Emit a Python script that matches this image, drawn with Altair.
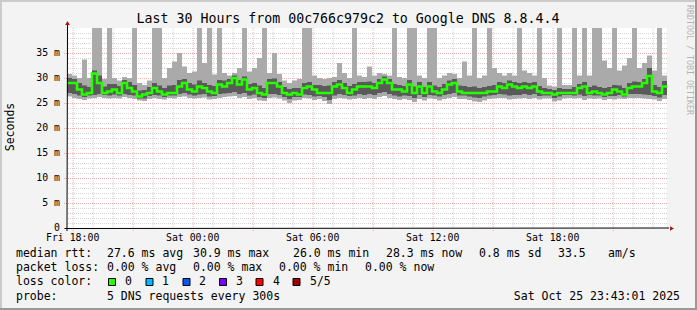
import altair as alt
import pandas as pd

FONT = "DejaVu Sans Mono"

TITLE = "Last 30 Hours from 00c766c979c2 to Google DNS 8.8.4.4"
START = "2025-10-24 17:43:01"
BIN_MINUTES = 15

# median rtt (ms) per 15-minute bin
median = [
    29.0, 29.0, 27.7, 26.7, 27.0, 30.9, 29.0, 27.0, 27.3, 27.7,
    27.0, 29.0, 28.0, 27.3, 26.3, 26.7, 27.0, 28.0, 27.3, 26.7,
    27.0, 27.0, 28.3, 29.0, 27.7, 27.3, 28.3, 28.0, 27.3, 27.0,
    28.7, 28.3, 29.0, 30.0, 28.7, 29.7, 27.7, 28.0, 27.0, 26.7,
    29.0, 29.0, 28.3, 27.0, 26.7, 27.0, 26.7, 28.0, 28.3, 27.7,
    27.0, 27.0, 27.0, 28.3, 28.7, 28.0, 27.0, 27.7, 28.3, 28.3,
    28.3, 28.0, 29.0, 29.7, 29.0, 27.7, 27.7, 27.3, 28.7, 27.0,
    28.3, 27.0, 28.3, 27.3, 27.0, 27.7, 28.7, 29.0, 27.3, 27.0,
    27.0, 27.0, 27.0, 27.0, 27.3, 27.3, 28.3, 28.0, 28.7, 28.3,
    28.0, 28.3, 28.0, 28.3, 27.3, 27.0, 27.0, 26.7, 27.0, 27.0,
    27.0, 27.0, 28.0, 28.3, 27.0, 27.3, 27.0, 26.7, 27.0, 27.7,
    27.3, 26.7, 28.0, 28.3, 28.3, 29.0, 30.4, 27.3, 27.0, 28.3,
]
# fastest ping
p_min = [
    26.3, 26.0, 25.8, 25.6, 25.9, 26.0, 26.2, 26.0, 25.9, 26.0,
    25.9, 26.2, 26.0, 25.8, 25.5, 25.4, 25.8, 26.0, 25.8, 25.7,
    26.0, 25.9, 26.2, 26.3, 26.0, 25.9, 26.0, 26.1, 25.7, 25.8,
    26.0, 26.2, 26.3, 26.4, 26.0, 26.2, 25.8, 26.0, 25.5, 25.4,
    26.0, 26.1, 25.9, 25.5, 25.0, 25.5, 25.6, 26.0, 25.9, 25.6,
    25.8, 25.4, 24.8, 25.8, 26.0, 25.9, 25.7, 25.8, 26.0, 25.8,
    26.0, 25.8, 26.2, 26.4, 26.0, 25.8, 25.6, 25.8, 25.6, 25.2,
    25.8, 25.5, 25.9, 25.8, 25.5, 25.8, 26.0, 26.2, 25.8, 25.8,
    25.6, 25.3, 25.2, 25.5, 25.8, 25.9, 26.0, 26.0, 25.7, 25.8,
    25.9, 26.0, 25.8, 26.0, 25.7, 25.9, 25.9, 25.3, 25.5, 25.9,
    26.0, 25.9, 26.0, 25.6, 25.9, 25.8, 25.9, 25.6, 25.8, 25.7,
    25.9, 25.8, 26.0, 26.0, 26.0, 25.9, 25.8, 25.7, 25.4, 25.8,
]
# 2nd ping
p_lo = [
    27.0, 26.8, 26.5, 26.2, 26.5, 26.6, 26.8, 26.6, 26.5, 26.7,
    26.5, 26.8, 26.6, 26.5, 25.9, 25.9, 26.4, 26.6, 26.5, 26.2,
    26.5, 26.5, 26.8, 27.0, 26.7, 26.5, 26.7, 26.8, 26.3, 26.4,
    26.8, 26.9, 27.0, 27.2, 26.8, 27.0, 26.5, 26.7, 26.2, 26.0,
    26.8, 26.8, 26.6, 26.2, 25.8, 26.2, 26.2, 26.7, 26.6, 26.3,
    26.4, 26.2, 25.6, 26.5, 26.8, 26.6, 26.4, 26.5, 26.8, 26.6,
    26.8, 26.6, 27.0, 27.2, 26.8, 26.5, 26.3, 26.5, 26.4, 26.0,
    26.6, 26.2, 26.6, 26.5, 26.3, 26.6, 26.8, 27.0, 26.5, 26.5,
    26.3, 26.1, 26.0, 26.3, 26.5, 26.6, 26.8, 26.7, 26.5, 26.6,
    26.6, 26.8, 26.6, 26.8, 26.4, 26.5, 26.5, 26.0, 26.3, 26.6,
    26.6, 26.5, 26.7, 26.4, 26.6, 26.5, 26.5, 26.2, 26.4, 26.4,
    26.6, 26.3, 26.8, 26.8, 26.8, 26.7, 26.6, 26.4, 26.1, 26.6,
]
# 4th ping
p_hi = [
    30.0, 29.8, 29.0, 28.5, 28.2, 31.5, 30.5, 28.3, 28.8, 28.8,
    28.4, 29.6, 29.2, 28.6, 27.5, 27.6, 28.2, 29.0, 28.5, 28.0,
    28.5, 28.6, 29.6, 29.8, 29.0, 28.7, 29.5, 29.0, 28.6, 28.4,
    29.6, 29.5, 29.8, 30.5, 29.6, 30.3, 28.8, 29.0, 28.5, 28.0,
    29.8, 29.9, 29.2, 28.2, 27.8, 28.0, 28.0, 29.0, 29.2, 28.6,
    28.6, 28.4, 28.5, 29.2, 29.6, 29.0, 28.4, 28.8, 29.2, 29.2,
    29.3, 29.0, 29.8, 30.3, 29.8, 28.8, 28.6, 28.4, 29.6, 28.3,
    29.2, 28.2, 29.2, 28.5, 28.2, 28.8, 29.5, 29.8, 28.5, 28.4,
    28.2, 28.3, 28.0, 28.2, 28.4, 28.6, 29.2, 29.0, 29.5, 29.2,
    29.0, 29.2, 29.0, 29.2, 28.4, 28.0, 27.8, 27.6, 28.0, 27.8,
    27.8, 28.2, 28.8, 29.2, 28.2, 28.5, 28.2, 28.0, 28.2, 28.6,
    28.5, 28.0, 29.0, 29.3, 29.2, 29.8, 32.0, 28.6, 28.2, 29.4,
]
# slowest ping (values above the top of the graph are clipped)
p_max = [
    30.8, 30.5, 30.0, 33.7, 30.0, 45.0, 45.0, 29.8, 45.0, 30.0,
    29.5, 30.2, 30.0, 45.0, 29.0, 28.6, 29.5, 45.0, 45.0, 30.0,
    32.0, 33.3, 35.0, 32.3, 31.0, 31.3, 45.0, 33.0, 45.0, 30.7,
    45.0, 31.0, 30.5, 31.0, 32.0, 45.0, 31.3, 32.0, 34.0, 45.0,
    31.0, 35.0, 30.8, 29.5, 29.0, 29.5, 29.8, 45.0, 45.0, 30.5,
    30.0, 29.8, 30.0, 30.2, 33.0, 31.0, 30.0, 45.0, 30.5, 30.2,
    32.3, 30.5, 31.0, 30.8, 30.5, 45.0, 30.2, 30.0, 45.0, 45.0,
    30.5, 30.0, 45.0, 45.0, 30.0, 30.5, 31.0, 30.8, 30.0, 33.3,
    30.5, 45.0, 30.0, 30.5, 45.0, 32.0, 31.0, 30.5, 31.0, 30.5,
    45.0, 31.5, 31.0, 30.5, 45.0, 30.0, 28.5, 28.3, 45.0, 28.6,
    28.6, 45.0, 30.5, 45.0, 30.5, 45.0, 45.0, 33.5, 32.0, 45.0,
    31.5, 32.5, 34.0, 45.0, 32.0, 33.0, 34.5, 31.5, 45.0, 30.5,
]

y_tick_values = [0, 5, 10, 15, 20, 25, 30, 35]
y_tick_labels = ["0\u00a0\u00a0", "5 m", "10 m", "15 m", "20 m", "25 m", "30 m", "35 m"]
x_tick_times = ["2025-10-24T18:00:00Z", "2025-10-25T00:00:00Z", "2025-10-25T06:00:00Z",
                "2025-10-25T12:00:00Z", "2025-10-25T18:00:00Z"]
x_tick_labels = ["Fri 18:00", "Sat 00:00", "Sat 06:00", "Sat 12:00", "Sat 18:00"]

legend_rows = [
    ("median rtt:", 16, 254), ("27.6 ms avg", 107, 254), ("30.9 ms max", 193, 254),
    ("26.0 ms min", 293, 254), ("28.3 ms now", 386, 254), ("0.8 ms sd", 479, 254),
    ("33.5", 558, 254), ("am/s", 608, 254),
    ("packet loss:", 16, 268), ("0.00 % avg", 107, 268), ("0.00 % max", 193, 268),
    ("0.00 % min", 279, 268), ("0.00 % now", 365, 268),
    ("loss color:", 16, 282), ("0", 125, 282), ("1", 162, 282), ("2", 199, 282),
    ("3", 236, 282), ("4", 273, 282), ("5/5", 310, 282),
    ("probe:", 16, 296.5), ("5 DNS requests every 300s", 107, 296.5),
]
loss_colors = ["#26ff00", "#00b8ff", "#0059ff", "#7e00ff", "#ff0000", "#a10000"]
loss_box_x = [112, 149.5, 186.5, 223, 259.5, 296.5]
STAMP = "Sat Oct 25 23:43:01 2025"

# ---------------------------------------------------------------- layout
W, H = 600, 200
PAD_L, PAD_T = 67, 28
LIGHT = "#aaaaaa"
DARK = "#5a5a5a"
GRID = "#d4d4d4"
MGRID = "#f0b0b0"
ARROW = "#a01818"

start = pd.Timestamp(START, tz="UTC")
n = len(median)
t0 = [start + pd.Timedelta(minutes=BIN_MINUTES * i) for i in range(n)]
t1 = [t + pd.Timedelta(minutes=BIN_MINUTES) for t in t0]
iso = lambda t: t.strftime("%Y-%m-%dT%H:%M:%SZ")
end = t1[-1]

smoke = pd.DataFrame({
    "t0": [iso(t) for t in t0], "t1": [iso(t) for t in t1],
    "mn": p_min, "lo": p_lo, "hi": p_hi, "mx": p_max,
})
med_df = pd.DataFrame({"t": [iso(t) for t in t0] + [iso(end)], "m": median + [median[-1]]})

hours = pd.date_range("2025-10-24 18:00", "2025-10-25 23:00", freq="1h", tz="UTC")
hour_df = pd.DataFrame({"t": [iso(h) for h in hours], "major": [h.hour % 3 == 0 for h in hours]})
minor_y = pd.DataFrame({"v": [v for v in range(1, 40) if v % 5]})
major_y = pd.DataFrame({"v": [v for v in range(5, 40, 5)]})

def dt(t):
    return alt.DateTime(year=t.year, month=t.month, date=t.day, hours=t.hour,
                        minutes=t.minute, seconds=t.second, utc=True)

xscale = alt.Scale(type="utc", domain=[dt(start), dt(end)])
yscale = alt.Scale(domain=[0, 40], nice=False, zero=False)

def X(field):
    return alt.X(field, type="temporal", scale=xscale, axis=None)

def Y(field):
    return alt.Y(field, type="quantitative", scale=yscale, axis=None)

def PX(field):
    return alt.X(field, type="quantitative", scale=None, axis=None)

def PY(field):
    return alt.Y(field, type="quantitative", scale=None, axis=None)

grid_h_minor = alt.Chart(minor_y).mark_rule(color=GRID, strokeDash=[1, 1], yOffset=0.5).encode(
    y=Y("v"), x=alt.value(1), x2=alt.value(W))
grid_h_major = alt.Chart(major_y).mark_rule(color=MGRID, strokeDash=[1, 1], yOffset=0.5).encode(
    y=Y("v"), x=alt.value(-3), x2=alt.value(W))
grid_v_minor = alt.Chart(hour_df).transform_filter("!datum.major").mark_rule(
    color=GRID, strokeDash=[1, 1], xOffset=0.5).encode(x=X("t"), y=alt.value(0), y2=alt.value(H))
grid_v_major = alt.Chart(hour_df).transform_filter("datum.major").mark_rule(
    color=MGRID, strokeDash=[1, 1], xOffset=0.5).encode(x=X("t"), y=alt.value(0), y2=alt.value(H + 3))

outer = alt.Chart(smoke).mark_rect(color=LIGHT, clip=True).encode(
    x=X("t0"), x2="t1", y=Y("mn"), y2="mx")
inner = alt.Chart(smoke).mark_rect(color=DARK, clip=True).encode(
    x=X("t0"), x2="t1", y=Y("lo"), y2="hi")
med_line = alt.Chart(med_df).mark_line(color="#26ff00", strokeWidth=2.6,
                                       interpolate="step-after", clip=True).encode(
    x=X("t"), y=Y("m"))

# axes
axis_df = pd.DataFrame({"x": [0, -3], "x2": [0, W + 2], "y": [-4, H], "y2": [H + 3, H]})
axis_lines = alt.Chart(axis_df).mark_rule(color="#000000", strokeWidth=1, xOffset=0.5, yOffset=0.5).encode(
    x=PX("x"), x2="x2", y=PY("y"), y2="y2")
arrows = alt.Chart(pd.DataFrame({"x": [0.5, W + 5], "y": [-5, H + 0.5], "s": ["triangle-up", "triangle-right"]})).mark_point(
    filled=True, color=ARROW, size=22, opacity=1).encode(
    x=PX("x"), y=PY("y"), shape=alt.Shape("s:N", scale=None, legend=None))

y_labels = alt.Chart(pd.DataFrame({"v": y_tick_values, "lab": y_tick_labels})).mark_text(
    font=FONT, fontSize=9.85, align="right", baseline="middle", color="#000000").encode(
    y=Y("v"), x=alt.value(-7), text="lab:N")
x_labels = alt.Chart(pd.DataFrame({"t": x_tick_times, "lab": x_tick_labels})).mark_text(
    font=FONT, fontSize=9.85, align="center", baseline="middle", color="#000000").encode(
    x=X("t"), y=alt.value(237.8 - PAD_T), text="lab:N")

title = alt.Chart(pd.DataFrame({"txt": [TITLE], "x": [348 - PAD_L], "y": [18.5 - PAD_T]})).mark_text(
    font=FONT, fontSize=13.25, align="center", baseline="middle", color="#000000").encode(
    x=PX("x"), y=PY("y"), text="txt:N")
ylabel = alt.Chart(pd.DataFrame({"txt": ["Seconds"], "x": [10.5 - PAD_L], "y": [127 - PAD_T]})).mark_text(
    font=FONT, fontSize=11.5, align="center", baseline="middle", angle=270, color="#000000").encode(
    x=PX("x"), y=PY("y"), text="txt:N")
watermark = alt.Chart(pd.DataFrame({"txt": ["RRDTOOL / TOBI OETIKER"], "x": [688.5 - PAD_L], "y": [60 - PAD_T]})).mark_text(
    font=FONT, fontSize=8.3, align="center", baseline="middle", angle=90, color="#b4b4b4").encode(
    x=PX("x"), y=PY("y"), text="txt:N")

leg_df = pd.DataFrame({
    "txt": [r[0] for r in legend_rows],
    "x": [r[1] - PAD_L for r in legend_rows],
    "y": [r[2] - PAD_T for r in legend_rows],
})
legend_text = alt.Chart(leg_df).mark_text(
    font=FONT, fontSize=11.5, align="left", baseline="middle", color="#000000").encode(
    x=PX("x"), y=PY("y"), text="txt:N")
stamp = alt.Chart(pd.DataFrame({"txt": [STAMP], "x": [680 - PAD_L], "y": [296.5 - PAD_T]})).mark_text(
    font=FONT, fontSize=11.5, align="right", baseline="middle", color="#000000").encode(
    x=PX("x"), y=PY("y"), text="txt:N")
boxes = alt.Chart(pd.DataFrame({"x": [b - PAD_L for b in loss_box_x], "y": [282 - PAD_T] * 6, "c": loss_colors})).mark_square(
    size=49, stroke="#000000", strokeWidth=1, opacity=1).encode(
    x=PX("x"), y=PY("y"), fill=alt.Fill("c:N", scale=None, legend=None))

# frame (3D border of the image)
frame_df = pd.DataFrame({
    "x": [-PAD_L, -PAD_L + 1, -PAD_L, 697 - PAD_L - 1],
    "x2": [697 - PAD_L, -PAD_L + 1, 697 - PAD_L, 697 - PAD_L - 1],
    "y": [-PAD_T + 1, -PAD_T, 310 - PAD_T - 1, -PAD_T],
    "y2": [-PAD_T + 1, 310 - PAD_T, 310 - PAD_T - 1, 310 - PAD_T],
    "c": ["#cbcbcb", "#cbcbcb", "#999999", "#999999"],
})
frame = alt.Chart(frame_df).mark_rule(strokeWidth=2).encode(
    x=PX("x"), x2="x2", y=PY("y"), y2="y2", color=alt.Color("c:N", scale=None, legend=None))

chart = alt.layer(
    grid_h_minor, grid_v_minor, grid_h_major, grid_v_major,
    outer, inner, med_line,
    axis_lines, arrows, y_labels, x_labels,
    title, ylabel, watermark, legend_text, stamp, boxes, frame,
).properties(
    width=W, height=H,
    autosize=alt.AutoSizeParams(type="none"),
    padding={"left": PAD_L, "top": PAD_T, "right": 697 - PAD_L - W, "bottom": 310 - PAD_T - H},
    background="#f3f3f3",
).configure_view(stroke=None, fill="#ffffff")

chart.save("out.html", embed_options={"renderer": "svg", "actions": False})
